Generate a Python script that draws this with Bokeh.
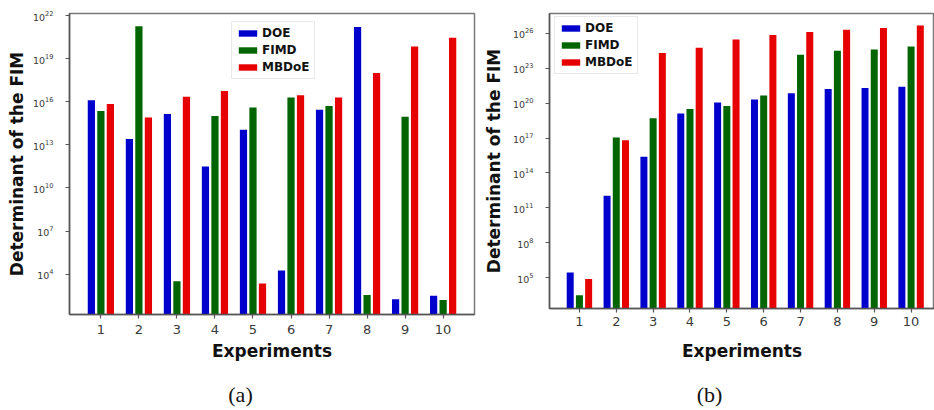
from bokeh.plotting import figure
from bokeh.layouts import row, column
from bokeh.models import FixedTicker, Range1d, Label
from bokeh.embed import file_html
from bokeh.resources import INLINE

# Experiment index on the x axis
experiments = [1, 2, 3, 4, 5, 6, 7, 8, 9, 10]
series = ["DOE", "FIMD", "MBDoE"]
colors = ["#0000cd", "#006400", "#e60000"]

# log10 of the FIM determinant, panel (a)
a_doe = [16.1, 13.4, 15.15, 11.5, 14.05, 4.25, 15.45, 21.2, 2.25, 2.5]
a_fimd = [15.35, 21.25, 3.5, 15.0, 15.6, 16.3, 15.7, 2.55, 14.95, 2.2]
a_mbdoe = [15.85, 14.9, 16.35, 16.75, 3.35, 16.45, 16.3, 18.0, 19.85, 20.45]

# log10 of the FIM determinant, panel (b)
b_doe = [5.45, 12.05, 15.4, 19.1, 20.05, 20.3, 20.85, 21.2, 21.3, 21.4]
b_fimd = [3.5, 17.05, 18.7, 19.5, 19.75, 20.65, 24.15, 24.5, 24.6, 24.85]
b_mbdoe = [4.9, 16.8, 24.3, 24.75, 25.45, 25.85, 26.1, 26.3, 26.45, 26.65]

# y tick exponents
a_tick_exp = [4, 7, 10, 13, 16, 19, 22]
b_tick_exp = [5, 8, 11, 14, 17, 20, 23, 26]

# sub-figure captions
captions = ["(a)", "(b)"]

LABEL_FONT = "DejaVu Sans"


def panel(values, x_lim, y_exp_lim, tick_exp, width, height, border_left, border_right,
          legend_xy, xlab_standoff, xtick_standoff, ylab_standoff):
    y0, y1 = 10 ** y_exp_lim[0], 10 ** y_exp_lim[1]
    p = figure(width=width, height=height, y_axis_type="log",
               x_range=Range1d(*x_lim), y_range=Range1d(y0, y1),
               output_backend="svg", toolbar_location=None,
               min_border_left=border_left, min_border_right=border_right,
               min_border_top=13, min_border_bottom=66)
    p.xgrid.visible = False
    p.ygrid.visible = False
    p.outline_line_color = "#7a7a7a"
    p.outline_line_width = 1.5

    offsets = [-0.25, 0.0, 0.25]
    for name, col, vals, off in zip(series, colors, values, offsets):
        p.vbar(x=[e + off for e in experiments], top=[10 ** v for v in vals],
               bottom=y0, width=0.19, fill_color=col, line_color=None,
               legend_label=name)

    p.xaxis.ticker = FixedTicker(ticks=experiments)
    p.yaxis.ticker = FixedTicker(ticks=[10 ** e for e in tick_exp])
    for ax in (p.xaxis[0], p.yaxis[0]):
        ax.axis_line_color = "#555555"
        ax.axis_line_width = 1.5
        ax.major_tick_line_color = "#555555"
        ax.major_tick_line_width = 1.2
        ax.major_tick_out = 4
        ax.major_tick_in = 0
        ax.minor_tick_line_color = None
        ax.axis_label_text_font = LABEL_FONT
        ax.axis_label_text_font_style = "bold"
        ax.axis_label_text_font_size = "17px"
        ax.axis_label_text_color = "#111111"
        ax.major_label_text_font = LABEL_FONT
        ax.major_label_text_color = "#3a3a3a"

    p.xaxis.axis_label = "Experiments"
    p.xaxis.major_label_text_font_size = "13px"
    p.xaxis.major_label_standoff = xtick_standoff
    p.xaxis.axis_label_standoff = xlab_standoff
    p.yaxis.axis_label = "Determinant of the FIM"
    p.yaxis.major_label_text_font_size = "9.5px"
    p.yaxis.major_label_standoff = 12
    p.yaxis.axis_label_standoff = ylab_standoff

    lg = p.legend[0]
    lg.location = legend_xy
    lg.label_text_font = LABEL_FONT
    lg.label_text_font_style = "bold"
    lg.label_text_font_size = "12px"
    lg.label_text_color = "#111111"
    lg.glyph_width = 23
    lg.glyph_height = 8
    lg.label_height = 14
    lg.label_standoff = 3
    lg.spacing = 3
    lg.padding = 4
    lg.margin = 0
    lg.border_line_color = "#d4d4d4"
    lg.border_line_width = 1
    return p


pa = panel([a_doe, a_fimd, a_mbdoe], (0.175, 10.825), (1.195, 22.14), a_tick_exp,
           width=480, height=380, border_left=69, border_right=6,
           legend_xy=(162, 235), xlab_standoff=4, xtick_standoff=6,
           ylab_standoff=3)
pb = panel([b_doe, b_fimd, b_mbdoe], (0.188, 10.635), (2.364, 27.69), b_tick_exp,
           width=454, height=374, border_left=64, border_right=0,
           legend_xy=(5, 234), xlab_standoff=12, xtick_standoff=4,
           ylab_standoff=6)

# caption strip under the two panels
cap = figure(width=934, height=30, x_range=Range1d(0, 934), y_range=Range1d(0, 30),
             output_backend="svg", toolbar_location=None, min_border=0,
             x_axis_location=None, y_axis_location=None)
cap.xgrid.visible = False
cap.ygrid.visible = False
cap.outline_line_color = None
for text, cx in zip(captions, [240, 709]):
    cap.add_layout(Label(x=cx, y=16, x_units="screen", y_units="screen", text=text,
                         text_align="center", text_baseline="middle",
                         text_font="Liberation Serif", text_font_size="22px",
                         text_color="#111111"))

layout = column(row(pa, pb, spacing=0), cap, spacing=0)
open("out.html", "w").write(file_html(layout, INLINE))
